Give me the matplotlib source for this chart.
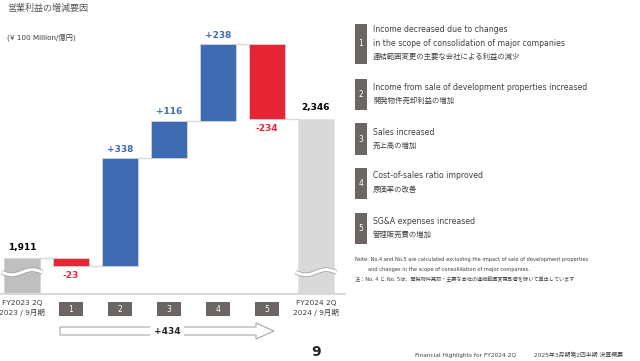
import matplotlib.pyplot as plt
import matplotlib.transforms as mtransforms
import numpy as np
from matplotlib.patches import Polygon, Rectangle

plt.rcParams['font.family'] = ['DejaVu Sans', 'Noto Sans CJK JP']

# ---- data ----
start_value = 1911
end_value = 2346
changes = [-23, 338, 116, 238, -234]
factor_ids = ["1", "2", "3", "4", "5"]
start_label = "FY2023 2Q\n2023 / 9月期"
end_label = "FY2024 2Q\n2024 / 9月期"
total_change = "+434"
unit_label = "(¥ 100 Million/億円)"
title = "営業利益の増減要因"
factor_text = [
    ["Income decreased due to changes", "in the scope of consolidation of major companies", "連結範囲変更の主要な会社による利益の減少"],
    ["Income from sale of development properties increased", "開発物件売却利益の増加"],
    ["Sales increased", "売上高の増加"],
    ["Cost-of-sales ratio improved", "原価率の改善"],
    ["SG&A expenses increased", "管理販売費の増加"],
]
notes = [
    "Note: No.4 and No.5 are calculated excluding the impact of sale of development properties",
    "        and changes in the scope of consolidation of major companies.",
    "注：No. 4 と No. 5は、開発物件売却・主要な会社の連結範囲変更影響を除いて算出しています",
]
footer_en = "Financial Highlights for FY2024 2Q"
footer_ja = "2025年3月期第2四半期 決算概要"
page_no = "9"

BLUE = "#3F6BB2"
RED = "#E62634"
GRAY_START = "#BFBFBF"
GRAY_END = "#D9D9D9"
BOX = "#6B6564"
TXT = "#404040"

W, H = 640, 361
fig = plt.figure(figsize=(6.4, 3.61), dpi=100)


def fx(px):
    return px / W


def fy(py):
    return 1 - py / H


floor = 1800
ax = fig.add_axes([0, fy(294), fx(340), (294 - 30) / H])
ax.set_xlim(-0.449, 6.49)
ax.set_ylim(floor, floor + 264 / 0.32)
ax.axis("off")

bw = 0.735
# start / end bars
ax.bar(0, start_value - floor, bottom=floor, width=bw, color=GRAY_START, edgecolor="#D0D0D0", lw=0.5)
ax.bar(6, end_value - floor, bottom=floor, width=bw, color=GRAY_END, edgecolor="#E0E0E0", lw=0.5)

level = start_value
for i, ch in enumerate(changes, start=1):
    bottom = level if ch > 0 else level + ch
    col = BLUE if ch > 0 else RED
    ax.bar(i, abs(ch), bottom=bottom, width=bw, color=col, edgecolor="#DDDDDD", lw=0.5)
    ax.plot([i - 1 + bw / 2, i - bw / 2], [level, level], color="#D9D9D9", lw=1, zorder=0)
    new_level = level + ch
    if ch > 0:
        ax.annotate(f"+{ch}", (i, new_level), xytext=(0, 3), textcoords="offset points",
                    ha="center", va="bottom", color=BLUE, fontsize=6.5, fontweight="bold")
    else:
        ax.annotate(f"{ch}", (i, new_level), xytext=(0, -3.5), textcoords="offset points",
                    ha="center", va="top", color=RED, fontsize=6.5, fontweight="bold")
    level = new_level
ax.plot([5 + bw / 2, 6 - bw / 2], [level, level], color="#D9D9D9", lw=1, zorder=0)

ax.annotate(f"{start_value:,}", (0, start_value), xytext=(0, 5), textcoords="offset points",
            ha="center", va="bottom", color="black", fontsize=6.5, fontweight="bold")
ax.annotate(f"{end_value:,}", (6, end_value), xytext=(0, 5), textcoords="offset points",
            ha="center", va="bottom", color="black", fontsize=6.5, fontweight="bold")

# baseline
ax.plot([-0.449, 6.6], [floor, floor], color="#D9D9D9", lw=1.5, clip_on=False)

# axis break waves on the gray bars
for xc in (0, 6):
    xs = np.linspace(xc - bw / 2 - 0.05, xc + bw / 2 + 0.05, 40)
    t = (xs - xs[0]) / (xs[-1] - xs[0])
    ys = 1868 + 8 * np.sin(2 * np.pi * t + np.pi)
    ax.plot(xs, ys, color="#9A9A9A", lw=3.2, solid_capstyle="butt")
    ax.plot(xs, ys, color="white", lw=2.2, solid_capstyle="butt")

# categories below the chart
blend = mtransforms.blended_transform_factory(ax.transData, fig.transFigure)
ax.text(0, fy(308), start_label, transform=blend, ha="center", va="center",
        fontsize=5.4, color=TXT, linespacing=1.35)
ax.text(6, fy(308), end_label, transform=blend, ha="center", va="center",
        fontsize=5.4, color=TXT, linespacing=1.35)
for i, fid in enumerate(factor_ids, start=1):
    ax.add_patch(Rectangle((i - 0.24, fy(316)), 0.48, 14 / H, transform=blend,
                           facecolor=BOX, edgecolor="none", clip_on=False, zorder=3))
    ax.text(i, fy(309), fid, transform=blend, ha="center", va="center",
            fontsize=5.5, color="white", zorder=4)

# total change arrow
x0, x1, xh = (60 - 22) / 49, (274 - 22) / 49, (256 - 22) / 49
ax.add_patch(Polygon([(x0, fy(327)), (xh, fy(327)), (xh, fy(323)), (x1, fy(331)),
                      (xh, fy(339)), (xh, fy(335)), (x0, fy(335))],
                     closed=True, transform=blend, facecolor="white", edgecolor="#A6A6A6",
                     lw=0.8, clip_on=False, zorder=3))
ax.text((167 - 22) / 49, fy(331), total_change, transform=blend, ha="center", va="center",
        fontsize=6.5, fontweight="bold", color="#262626", zorder=4,
        bbox=dict(facecolor="white", edgecolor="none", pad=2.5))

# titles
fig.text(fx(7), fy(8), title, ha="left", va="center", fontsize=6.5, color="#595959")
fig.text(fx(7), fy(37), unit_label, ha="left", va="center", fontsize=5.2, color=TXT)

# right-hand factor legend
box_spans = [(24, 64), (79, 110), (123, 155), (168, 199), (213, 244)]
text_rows = [[30, 43, 56], [88, 100], [132, 145], [175, 189], [222, 234]]
for fid, (y0, y1), rows, lines in zip(factor_ids, box_spans, text_rows, factor_text):
    fig.add_artist(Rectangle((fx(355), fy(y1)), 12 / W, (y1 - y0) / H,
                             transform=fig.transFigure, facecolor=BOX, edgecolor="none"))
    fig.text(fx(361), fy((y0 + y1) / 2), fid, ha="center", va="center", fontsize=5.5,
             color="white", zorder=3)
    for yy, line in zip(rows, lines):
        fs = 5.6 if line.isascii() else 5.3
        fig.text(fx(373), fy(yy), line, ha="left", va="center", fontsize=fs, color=TXT)

for yy, line in zip([260, 269, 279], notes):
    fig.text(fx(355), fy(yy), line, ha="left", va="center", fontsize=3.7, color=TXT)

# footer
fig.text(fx(316), fy(352), page_no, ha="center", va="center", fontsize=10,
         fontweight="bold", color="#262626")
fig.text(fx(415), fy(355), footer_en, ha="left", va="center", fontsize=4.2, color=TXT)
fig.text(fx(534), fy(355), footer_ja, ha="left", va="center", fontsize=4.2, color=TXT)

fig.savefig("out.png", dpi=100)
